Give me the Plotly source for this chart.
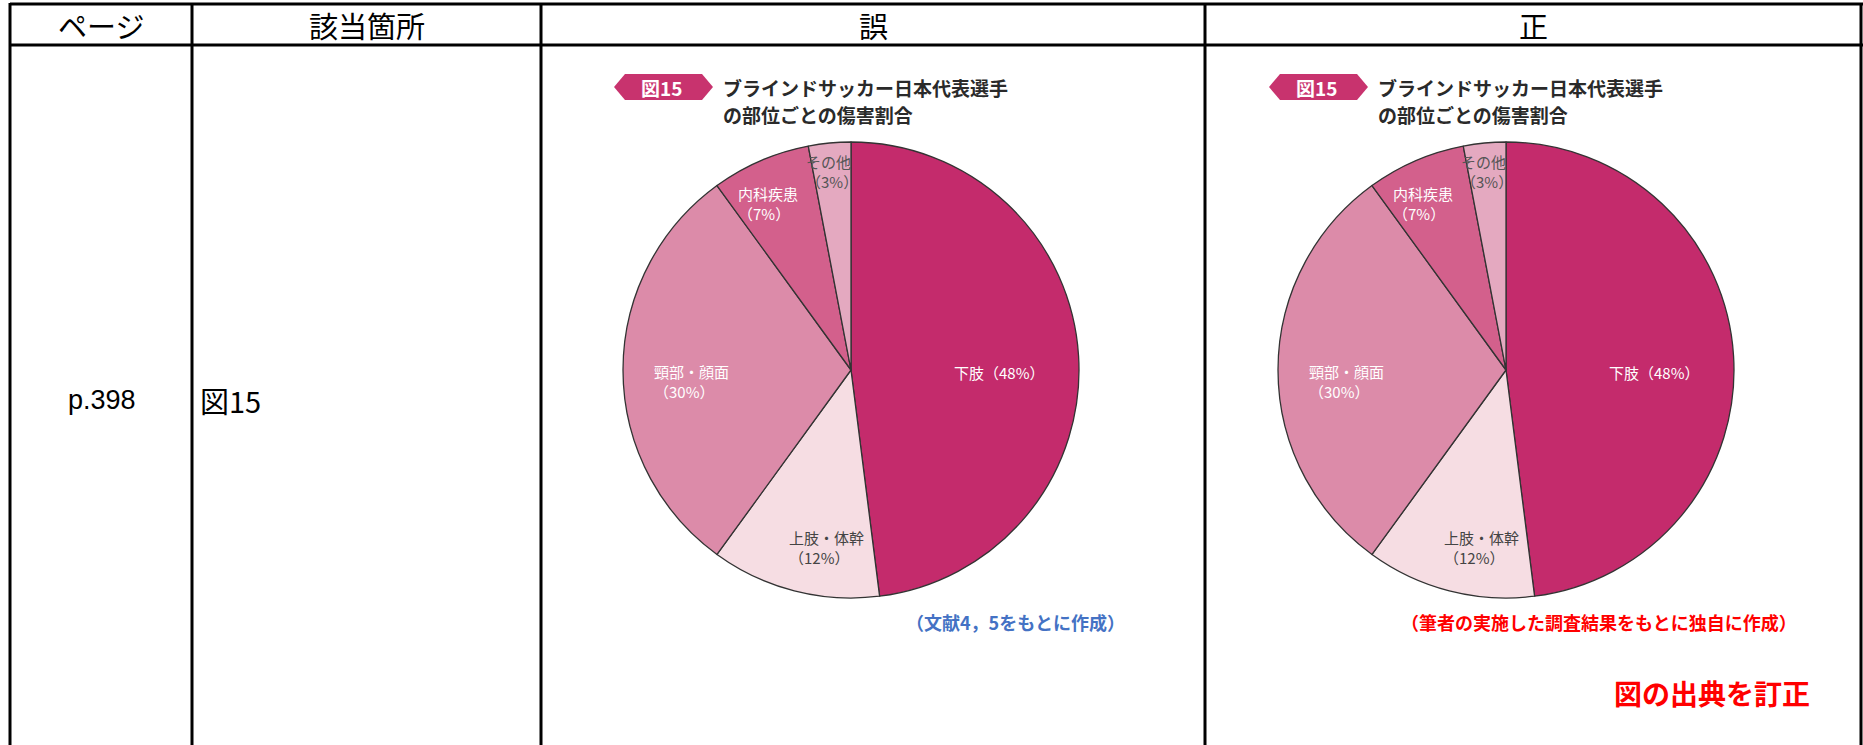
import plotly.graph_objects as go

W, H = 1863, 745

# ---- data ----
categories = ["下肢", "上肢・体幹", "頸部・顔面", "内科疾患", "その他"]
shares = [48, 12, 30, 7, 3]
headers = ["ページ", "該当箇所", "誤", "正"]
page_text = "p.398"
place_text = "図15"
badge_text = "図15"
title_lines = ["ブラインドサッカー日本代表選手", "の部位ごとの傷害割合"]
source_wrong = "（文献4，5をもとに作成）"
source_right = "（筆者の実施した調査結果をもとに独自に作成）"
correction_note = "図の出典を訂正"

# ---- styles / layout ----
slice_colors = ["#C42B6C", "#F6DDE3", "#DC8BA9", "#D3608C", "#E4A9C0"]
label_colors = ["#FFFFFF", "#444444", "#FFFFFF", "#FFFFFF", "#555555"]
# label offsets relative to pie centre (px), anchor
label_offsets = [(148, 2, "center"), (-64, 177, "left"), (-199, 11, "left"),
                 (-115, -167, "left"), (-47, -199, "left")]
col_x = [10, 192, 541, 1205, 1861]
top_y, head_y = 4, 45
pie_centers = [(851, 370), (1506, 370)]
R = 228
JP = "Noto Sans CJK JP"

fig = go.Figure()

for cx, cy in pie_centers:
    fig.add_trace(go.Pie(
        labels=categories, values=shares, sort=False, direction="clockwise",
        rotation=0, textinfo="none", hoverinfo="label+percent",
        marker=dict(colors=slice_colors, line=dict(color="#333333", width=1.3)),
        domain=dict(x=[(cx - R) / W, (cx + R) / W], y=[1 - (cy + R) / H, 1 - (cy - R) / H]),
        showlegend=False,
    ))

shapes = []
# table lines
shapes.append(dict(type="line", x0=col_x[0], x1=W, y0=top_y, y1=top_y, line=dict(color="black", width=3)))
shapes.append(dict(type="line", x0=col_x[0], x1=W, y0=head_y, y1=head_y, line=dict(color="black", width=3)))
for x in col_x:
    shapes.append(dict(type="line", x0=x, x1=x, y0=top_y - 1, y1=H, line=dict(color="black", width=3)))

annotations = []
def txt(x, y, text, size, color="black", xanchor="center", bold=False, family=JP, align="center"):
    annotations.append(dict(x=x, y=y, xref="x", yref="y", text=("<b>%s</b>" % text) if bold else text,
                            showarrow=False, xanchor=xanchor, yanchor="middle", align=align,
                            font=dict(size=size, color=color, family=family)))

# header
for i, h in enumerate(headers):
    txt((col_x[i] + col_x[i + 1]) / 2, 25, h, 29)
txt((col_x[0] + col_x[1]) / 2 + 1, 400, page_text, 27, family="Liberation Sans, Arial")
txt(col_x[1] + 6, 400, place_text, 29, xanchor="left")

for k, (cx, cy) in enumerate(pie_centers):
    # badge
    bx0, bx1, by = cx - 237, cx - 138, 87
    shapes.append(dict(type="path",
                       path="M %f %f L %f %f L %f %f L %f %f L %f %f L %f %f Z" % (
                           bx0, by, bx0 + 11, by - 13, bx1 - 11, by - 13, bx1, by, bx1 - 11, by + 13, bx0 + 11, by + 13),
                       fillcolor="#C8336E", line=dict(width=0)))
    txt((bx0 + bx1) / 2 - 2, by, badge_text, 19, color="white", bold=True)
    txt(cx - 130, 87, title_lines[0], 19, color="#2A2A2A", xanchor="left", bold=True)
    txt(cx - 130, 114, title_lines[1], 19, color="#2A2A2A", xanchor="left", bold=True)
    # slice labels
    for cat, v, (dx, dy, anc), col in zip(categories, shares, label_offsets, label_colors):
        if anc == "center":
            t = "%s（%d%%）" % (cat, v)
        else:
            t = "%s<br>（%d%%）" % (cat, v)
        txt(cx + dx, cy + dy, t, 15, color=col, xanchor=anc, align="left")

txt(1015, 622, source_wrong, 18, color="#4472C4", bold=True)
txt(1599, 622, source_right, 18, color="#FF0000", bold=True)
txt(1712, 693, correction_note, 28, color="#FF0000", bold=True)

fig.update_layout(
    width=W, height=H, margin=dict(l=0, r=0, t=0, b=0),
    paper_bgcolor="white", plot_bgcolor="white",
    xaxis=dict(range=[0, W], visible=False, fixedrange=True, domain=[0, 1]),
    yaxis=dict(range=[H, 0], visible=False, fixedrange=True, domain=[0, 1]),
    shapes=shapes, annotations=annotations,
)
fig.write_html("out.html", config={"displayModeBar": False},
               post_script="document.body.style.margin='0px';document.body.style.overflow='hidden';")
